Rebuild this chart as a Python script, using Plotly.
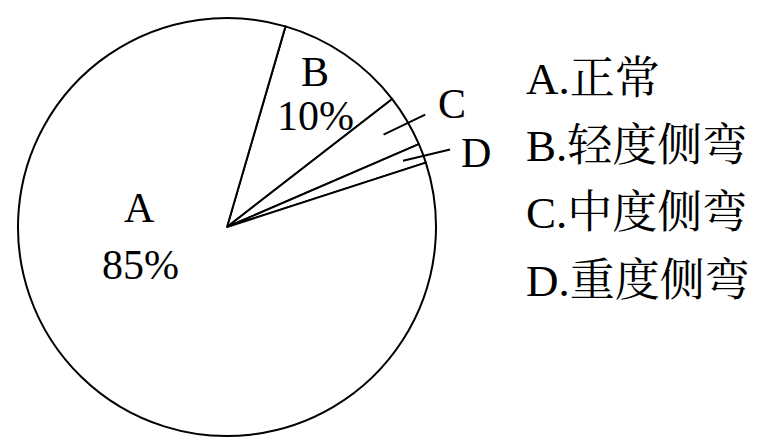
import math
import plotly.graph_objects as go

# Data
categories = ["B", "C", "D", "A"]
values = [10, 4, 1.5, 84.5]
legend_labels = ["A.正常", "B.轻度侧弯", "C.中度侧弯", "D.重度侧弯"]

W, H = 758, 439
CX, CY, R = 227, 227, 209
START = 16.25  # degrees clockwise from 12 o'clock where B begins
FONT = "Liberation Serif, Times New Roman, Noto Serif CJK SC, Noto Sans CJK SC, serif"
FS = 42
FS_LEG = 45

fig = go.Figure(go.Pie(
    labels=categories, values=values, sort=False, direction="clockwise",
    rotation=START, textinfo="none", hoverinfo="label+percent",
    marker=dict(colors=["white"] * 4, line=dict(color="black", width=2)),
    domain=dict(x=[(CX - R) / W, (CX + R) / W], y=[(H - CY - R) / H, (H - CY + R) / H]),
    showlegend=False,
))

total = sum(values)
mid = {}
acc = START
for c, v in zip(categories, values):
    span = v / total * 360
    mid[c] = acc + span / 2
    acc += span


def to_paper(theta, r):
    t = math.radians(theta)
    x = CX + r * math.sin(t)
    y = CY - r * math.cos(t)
    return x / W, 1 - y / H


def label(text, theta, rfrac, size=FS):
    x, y = to_paper(theta, rfrac * R)
    return dict(x=x, y=y, text=text, showarrow=False, xanchor="center", yanchor="middle",
                font=dict(family=FONT, size=size, color="black"),
                xref="paper", yref="paper")


annotations = [
    label("B", 29.6, 0.853),
    label("10%", 38.7, 0.68),
    label("A", 282.3, 0.427),
    label("85%", 246.2, 0.45),
    label("C", 61.3, 1.225),
    label("D", 73.4, 1.245),
]
shapes = []

# C and D leader lines
for c, r1, r2, dt in [("C", 0.87, 1.09, 1.0), ("D", 0.9, 1.13, 1.5)]:
    x0, y0 = to_paper(mid[c], r1 * R)
    x1, y1 = to_paper(mid[c] + dt, r2 * R)
    shapes.append(dict(type="line", xref="paper", yref="paper", x0=x0, y0=y0, x1=x1, y1=y1,
                       line=dict(color="black", width=2)))

# Legend text
rows_y = [79, 146, 213, 281]
for lab, yy in zip(legend_labels, rows_y):
    annotations.append(dict(x=524 / W, y=1 - yy / H, text=lab, showarrow=False,
                            xanchor="left", yanchor="middle",
                            font=dict(family=FONT, size=FS_LEG, color="black"),
                            xref="paper", yref="paper"))

fig.update_layout(width=W, height=H, margin=dict(l=0, r=0, t=0, b=0),
                  paper_bgcolor="white", plot_bgcolor="white",
                  annotations=annotations, shapes=shapes)
fig.write_html("out.html", config={"displayModeBar": False},
               post_script="document.body.style.margin='0';")
